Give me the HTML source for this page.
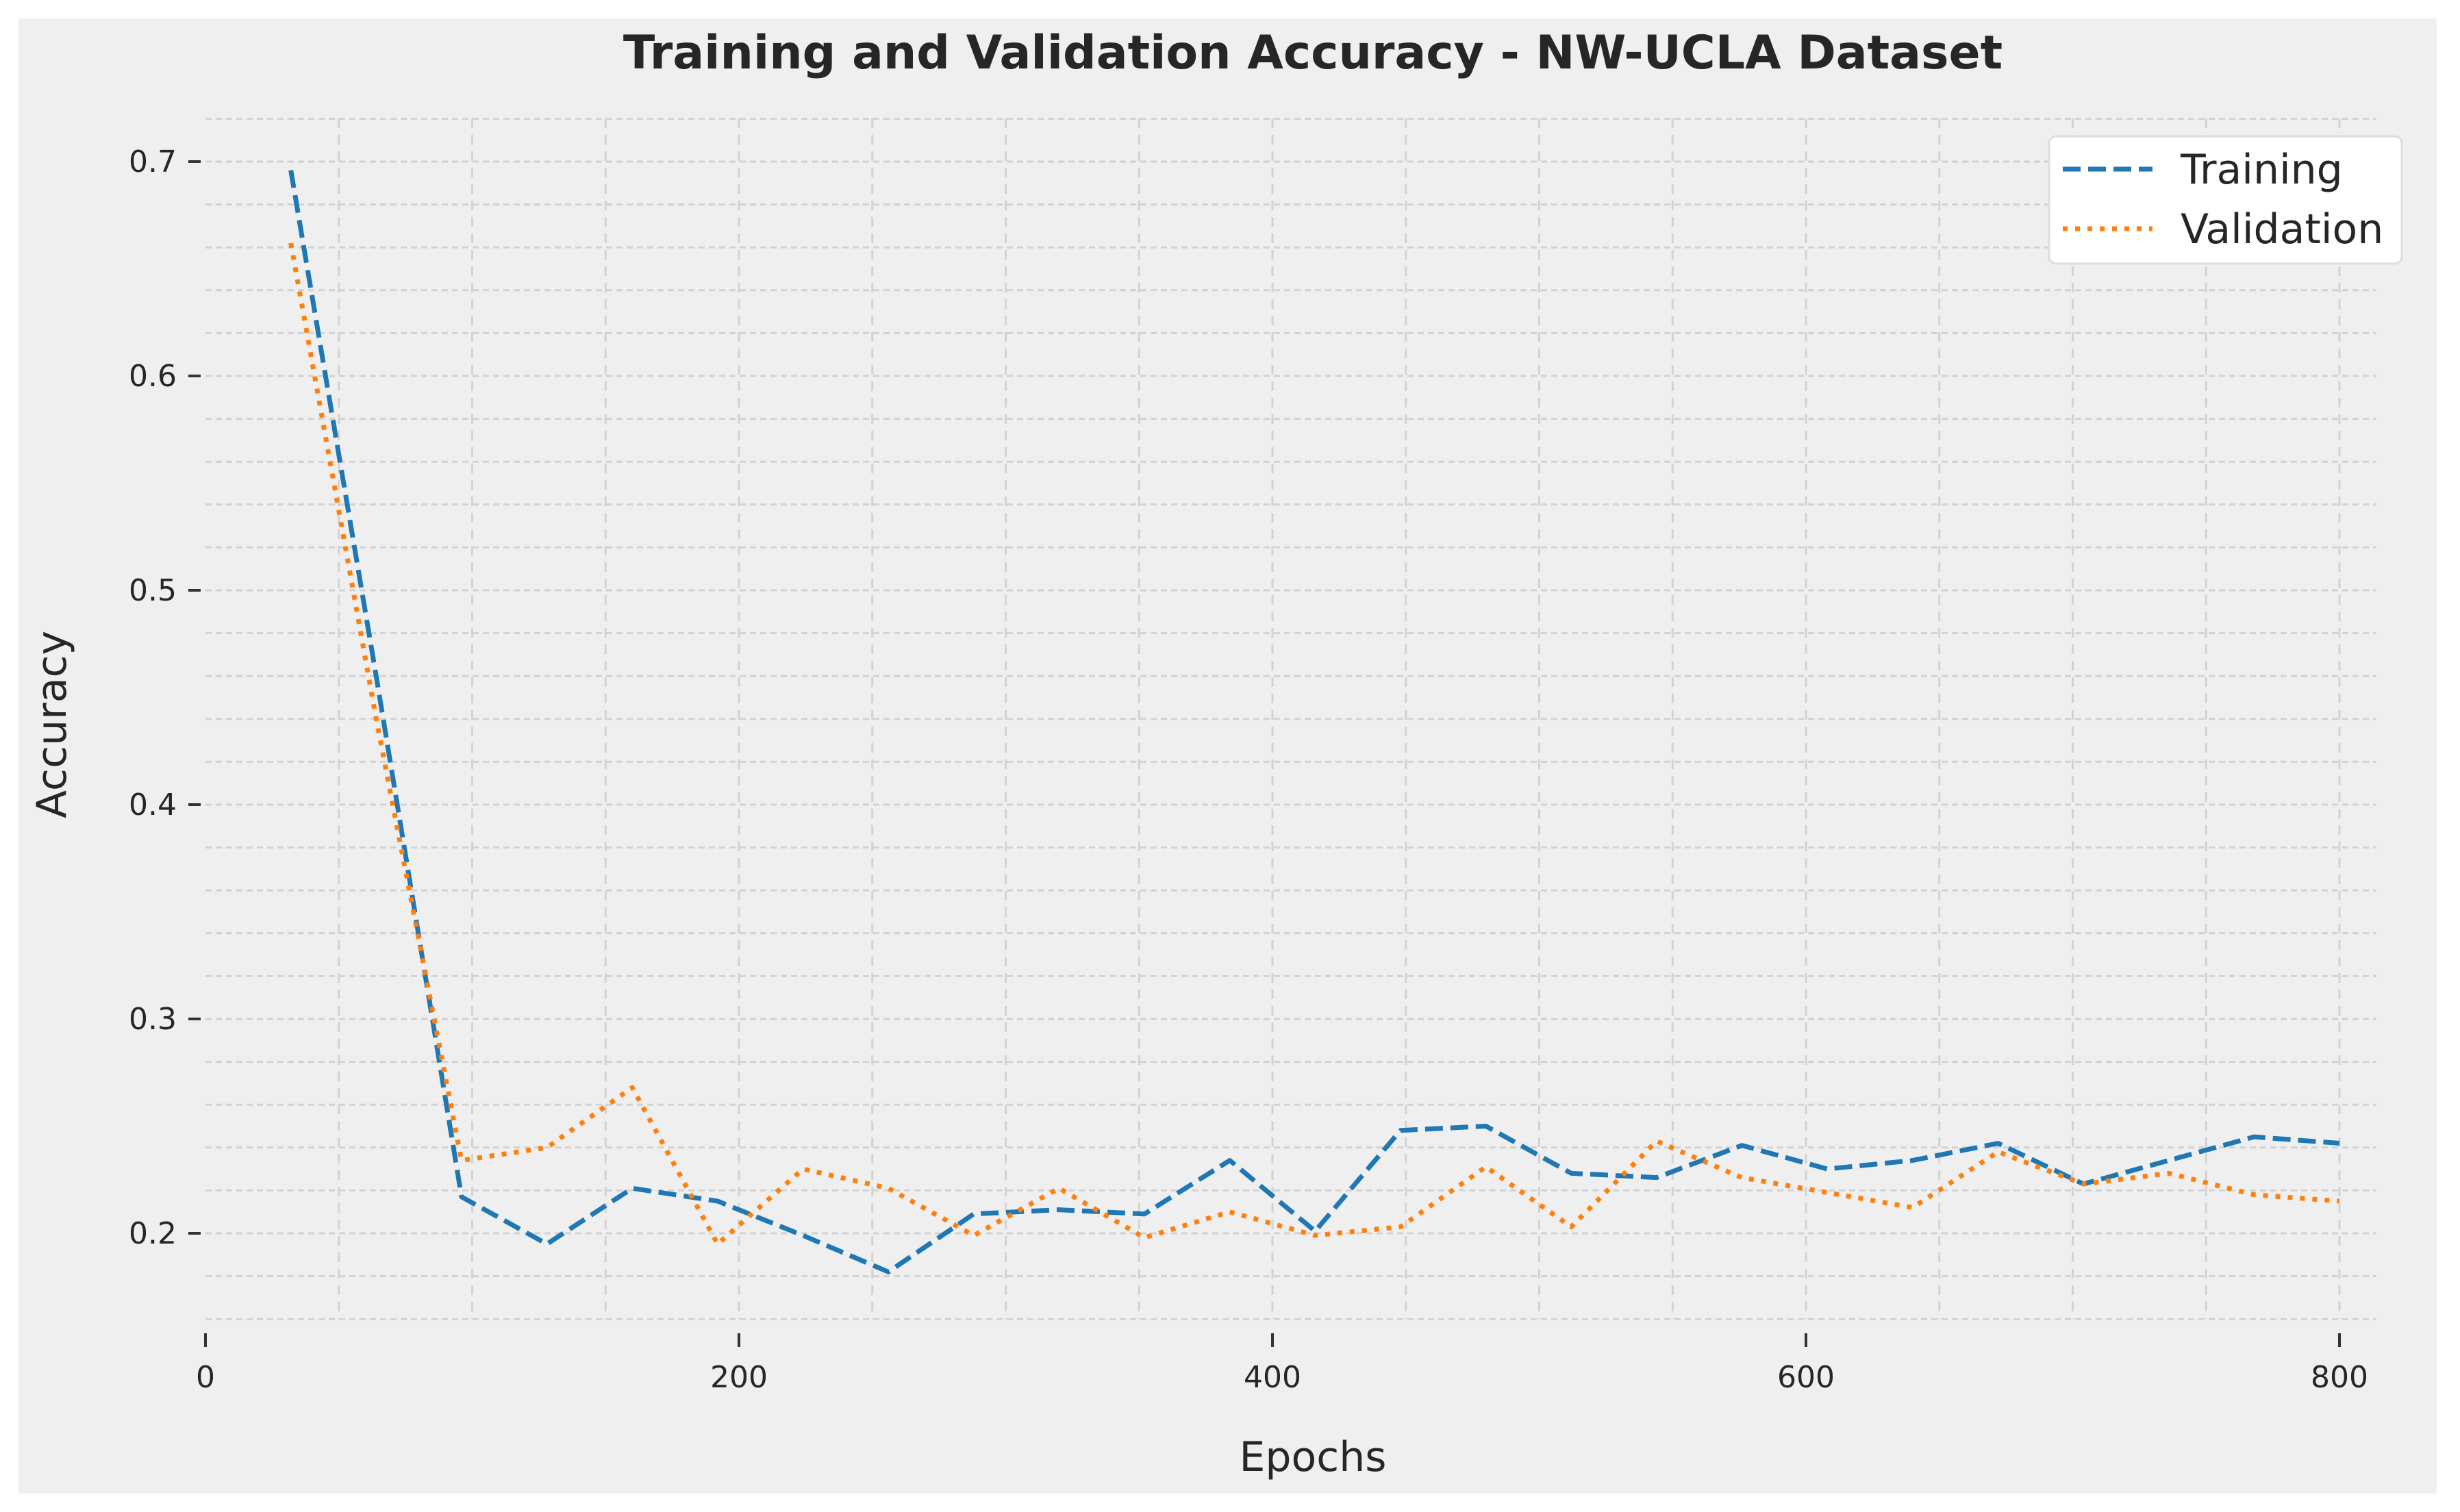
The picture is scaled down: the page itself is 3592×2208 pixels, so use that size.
<!DOCTYPE html>
<html><head><meta charset="utf-8"><style>
html,body{margin:0;padding:0;background:#fff;}
svg{display:block;font-family:"DejaVu Sans","Liberation Sans",sans-serif;}
</style></head><body>
<svg id="chart" width="3592" height="2208" viewBox="0 0 3592 2208">
<rect x="27" y="27" width="3531" height="2154" fill="#efefef"/>
<g id="grid"></g>
<g id="ticks"></g>
<g id="series"></g>
<text x="1917" y="100" text-anchor="middle" font-size="68" font-weight="bold" fill="#262626">Training and Validation Accuracy - NW-UCLA Dataset</text>
<text x="1917" y="2148" text-anchor="middle" font-size="60" fill="#262626">Epochs</text>
<text x="0" y="0" transform="translate(96,1058) rotate(-90)" text-anchor="middle" font-size="60" fill="#262626">Accuracy</text>
<g>
<rect x="2992" y="199" width="515" height="186" rx="10" fill="#fff" stroke="#ddd" stroke-width="3"/>
<line x1="3012" y1="247" x2="3143" y2="247" stroke="#1f77b4" stroke-width="7" stroke-dasharray="26,11"/>
<text x="3184" y="268" font-size="60" fill="#262626">Training</text>
<line x1="3012" y1="334" x2="3143" y2="334" stroke="#ff7f0e" stroke-width="7" stroke-dasharray="7,11"/>
<text x="3184" y="355" font-size="60" fill="#262626">Validation</text>
</g>
</svg>
<script>
const epochs=[32,64,96,128,160,192,224,256,288,320,352,384,416,448,480,512,544,576,608,640,672,704,736,768,800];
const trainingAcc=[0.696,0.46,0.217,0.195,0.221,0.215,0.199,0.182,0.209,0.211,0.209,0.234,0.201,0.248,0.250,0.228,0.226,0.241,0.230,0.234,0.242,0.223,0.234,0.245,0.242];
const validationAcc=[0.662,0.44,0.234,0.240,0.268,0.195,0.230,0.221,0.199,0.221,0.198,0.210,0.199,0.203,0.231,0.203,0.243,0.226,0.219,0.212,0.238,0.223,0.228,0.218,0.215];
const xTickLabels=[0,200,400,600,800];
const yTickLabels=[0.2,0.3,0.4,0.5,0.6,0.7];

const NS="http://www.w3.org/2000/svg";
const X0=300,XS=(3416-300)/800;
const Y0=1801,YS=313/0.1;
function xs(v){return X0+v*XS;}
function ys(v){return Y0-(v-0.2)*YS;}
const L=300,R=3470,T=173,B=1926;
function mk(tag,attrs,parent){const e=document.createElementNS(NS,tag);for(const k in attrs)e.setAttribute(k,attrs[k]);parent.appendChild(e);return e;}
const grid=document.getElementById('grid'),ticks=document.getElementById('ticks'),series=document.getElementById('series');
for(let i=0;i<=28;i++){const v=0.16+i*0.02;const y=ys(v);
 const g=mk('line',{x1:L,x2:R,y1:y,y2:y,stroke:'#d2d2d2','stroke-width':3,'stroke-dasharray':'9,6'},grid);
 
 }
for(let e=50;e<=800;e+=50){const x=xs(e);
 const g=mk('line',{x1:x,x2:x,y1:T,y2:B,stroke:'#d2d2d2','stroke-width':3,'stroke-dasharray':'14,10'},grid);
 
 }
yTickLabels.forEach(v=>{const y=ys(v);
 const t=mk('line',{x1:275,x2:293,y1:y,y2:y,stroke:'#333','stroke-width':4},ticks);
 
 
 const tx=mk('text',{x:258,y:y+15,'text-anchor':'end','font-size':44,fill:'#262626'},ticks);
 tx.textContent=v.toFixed(1);
 
 });
xTickLabels.forEach(v=>{const x=xs(v);
 const t=mk('line',{x1:x,x2:x,y1:1947,y2:1967,stroke:'#333','stroke-width':4},ticks);
 
 
 const tx=mk('text',{x:x,y:2026,'text-anchor':'middle','font-size':44,fill:'#262626'},ticks);
 tx.textContent=String(v);
 
 });
function pts(vals){return vals.map((v,i)=>xs(epochs[i])+','+ys(v)).join(' ');}
const tl=mk('polyline',{points:pts(trainingAcc),fill:'none',stroke:'#1f77b4','stroke-width':7,'stroke-dasharray':'26,11','stroke-linejoin':'round'},series);


const vl=mk('polyline',{points:pts(validationAcc),fill:'none',stroke:'#ff7f0e','stroke-width':7,'stroke-dasharray':'7,11','stroke-linejoin':'round'},series);


</script>
</body></html>
